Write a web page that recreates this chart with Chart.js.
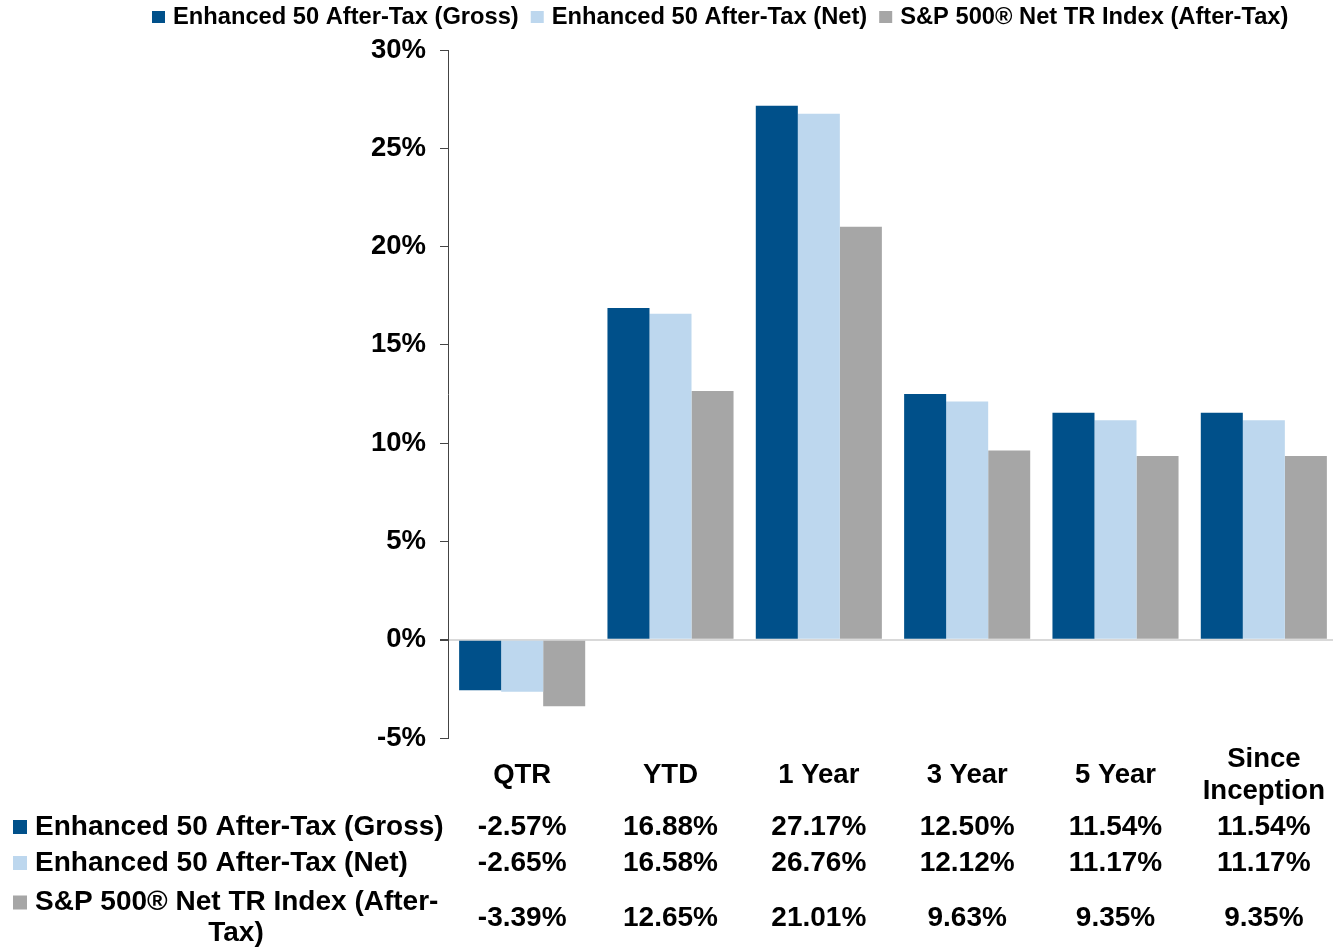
<!DOCTYPE html>
<html>
<head>
<meta charset="utf-8">
<script src="https://cdn.jsdelivr.net/npm/chart.js@4.4.1/dist/chart.umd.min.js"></script>
<style>
html, body { margin: 0; padding: 0; background: #fff; overflow: hidden; }
#wrap { width: 1338px; height: 948px; position: relative; }
</style>
</head>
<body>
<div id="wrap"><canvas id="perfChart"></canvas></div>
<script>
const categories = ['QTR', 'YTD', '1 Year', '3 Year', '5 Year', ['Since', 'Inception']];
const seriesNames = ['Enhanced 50 After-Tax (Gross)', 'Enhanced 50 After-Tax (Net)', 'S&P 500® Net TR Index (After-Tax)'];
const tableNames = [['Enhanced 50 After-Tax (Gross)'], ['Enhanced 50 After-Tax (Net)'], ['S&P 500® Net TR Index (After-', 'Tax)']];
const grossReturns = [-2.57, 16.88, 27.17, 12.50, 11.54, 11.54];
const netReturns = [-2.65, 16.58, 26.76, 12.12, 11.17, 11.17];
const indexReturns = [-3.39, 12.65, 21.01, 9.63, 9.35, 9.35];
const yTicks = [-5, 0, 5, 10, 15, 20, 25, 30];
const colors = ['#00508a', '#bdd7ee', '#a6a6a6'];

const FONT = '"Liberation Sans", Arial, sans-serif';

// legend on top + data table under the axis
const legendTable = {
    id: 'legendTable',
    afterDraw(chart) {
        const ctx = chart.ctx;
        const xs = chart.scales.x;
        ctx.save();
        ctx.textBaseline = 'middle';

        ctx.font = 'bold 23.7px ' + FONT;
        ctx.textAlign = 'left';
        let lx = 152;
        chart.data.datasets.forEach(ds => {
            ctx.fillStyle = ds.backgroundColor;
            ctx.fillRect(lx, 11, 13, 12);
            ctx.fillStyle = '#000';
            ctx.fillText(ds.label, lx + 21, 17);
            lx += 21 + ctx.measureText(ds.label).width + 12;
        });

        const rowY = [827, 863, 918];
        const lineH = 31;
        ctx.font = 'bold 28px ' + FONT;
        chart.data.datasets.forEach((ds, i) => {
            const y = rowY[i];
            const lines = tableNames[i];
            const firstY = y - (lines.length - 1) * lineH / 2;
            ctx.fillStyle = ds.backgroundColor;
            ctx.fillRect(13, firstY - 7, 14, 14);
            ctx.fillStyle = '#000';
            lines.forEach((line, j) => {
                if (j === 0) {
                    ctx.textAlign = 'left';
                    ctx.fillText(line, 35, firstY);
                } else {
                    ctx.textAlign = 'center';
                    ctx.fillText(line, 236, firstY + j * lineH);
                }
            });
            ctx.textAlign = 'center';
            ds.data.forEach((v, k) => {
                ctx.fillText(v.toFixed(2) + '%', xs.getPixelForValue(k), y);
            });
        });
        ctx.restore();
    }
};

new Chart(document.getElementById('perfChart'), {
    type: 'bar',
    data: {
        labels: categories,
        datasets: [
            { label: seriesNames[0], data: grossReturns, backgroundColor: colors[0] },
            { label: seriesNames[1], data: netReturns, backgroundColor: colors[1] },
            { label: seriesNames[2], data: indexReturns, backgroundColor: colors[2] }
        ]
    },
    options: {
        responsive: true,
        maintainAspectRatio: false,
        animation: false,
        categoryPercentage: 0.85,
        barPercentage: 1,
        layout: { padding: { top: 50, right: 0, bottom: 0, left: 0 } },
        plugins: {
            legend: { display: false },
            tooltip: { enabled: false }
        },
        scales: {
            x: {
                grid: { display: false },
                border: { display: false },
                ticks: {
                    color: '#000',
                    font: { family: FONT, size: 27.5, weight: 'bold', lineHeight: 1.17 },
                    padding: 13,
                    crossAlign: 'center',
                    maxRotation: 0
                },
                afterFit(scale) {
                    scale.height = 210;
                    scale.paddingLeft = 0;
                    scale.paddingRight = 0;
                }
            },
            y: {
                min: -5,
                max: 30,
                afterBuildTicks(scale) { scale.ticks = yTicks.map(v => ({ value: v })); },
                afterFit(scale) { scale.width = 448; },
                border: { display: true, color: '#444', width: 1 },
                grid: {
                    drawOnChartArea: true,
                    color: c => (c.tick && c.tick.value === 0) ? '#d9d9d9' : 'rgba(0,0,0,0)',
                    lineWidth: c => (c.tick && c.tick.value === 0) ? 2 : 1,
                    tickColor: '#444',
                    tickLength: 8
                },
                ticks: {
                    color: '#000',
                    font: { family: FONT, size: 27.5, weight: 'bold' },
                    padding: 14,
                    callback: v => v + '%'
                }
            }
        }
    },
    plugins: [legendTable]
});
</script>
</body>
</html>
